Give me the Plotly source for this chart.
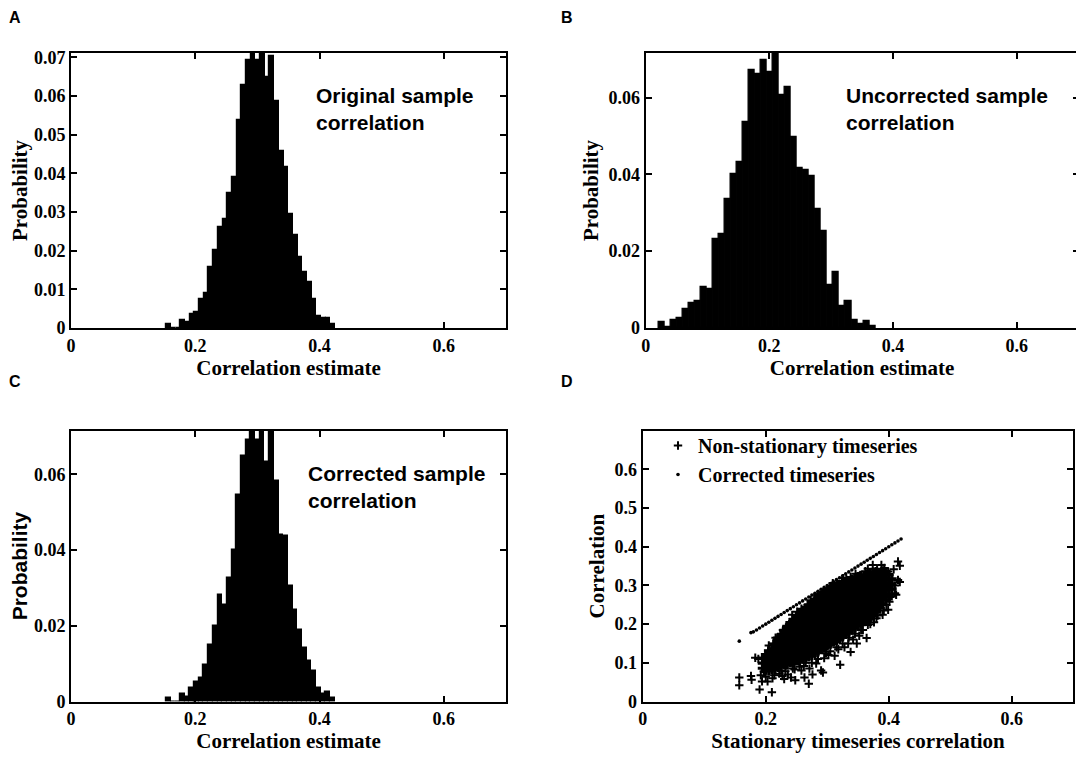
import plotly.graph_objects as go

# histogram bins (start, width) and bar heights
a_start, a_width = 0.1532, 0.00755
a_prob = [0.0011, 0, 0, 0.0021, 0.0016, 0.0037, 0.0042, 0.0076, 0.0091, 0.0157,
          0.0202, 0.0262, 0.0282, 0.0348, 0.0391, 0.0537, 0.0628, 0.0693, 0.0745, 0.0693,
          0.0740, 0.0648, 0.0702, 0.0587, 0.0457, 0.0416, 0.0296, 0.0241, 0.0183, 0.0145,
          0.0119, 0.0076, 0.0032, 0.0026, 0.0026, 0.0011]

b_start, b_width = 0.0204, 0.00975
b_prob = [0.0016, 0.0003, 0.0022, 0.0026, 0.0050, 0.0065, 0.0071, 0.0106, 0.0102, 0.0231,
          0.0246, 0.0336, 0.0402, 0.0431, 0.0537, 0.0671, 0.0661, 0.0697, 0.0666, 0.0745,
          0.0607, 0.0627, 0.0497, 0.0416, 0.0411, 0.0397, 0.0311, 0.0253, 0.0111, 0.0146,
          0.0056, 0.0070, 0.0021, 0.0010, 0.0019, 0.0006]

c_start, c_width = 0.1527, 0.00755
c_prob = [0.0009, 0, 0, 0.0021, 0.0012, 0.0037, 0.0051, 0.0062, 0.0097, 0.0150,
          0.0200, 0.0282, 0.0256, 0.0326, 0.0401, 0.0547, 0.0649, 0.0692, 0.0745, 0.0692,
          0.0745, 0.0634, 0.0745, 0.0584, 0.0441, 0.0437, 0.0306, 0.0242, 0.0189, 0.0141,
          0.0109, 0.0081, 0.0037, 0.0021, 0.0026, 0.0011]

# panel D: scattered crosses at the edge of the cloud
halo_x = [0.157, 0.157, 0.176, 0.177, 0.183, 0.188, 0.190, 0.192, 0.194, 0.197,
          0.200, 0.203, 0.205, 0.210, 0.211, 0.214, 0.216, 0.219, 0.222, 0.227,
          0.230, 0.233, 0.236, 0.241, 0.243, 0.247, 0.248, 0.251, 0.256, 0.258,
          0.262, 0.263, 0.266, 0.270, 0.271, 0.276, 0.278, 0.282, 0.286, 0.290,
          0.293, 0.295, 0.299, 0.302, 0.306, 0.309, 0.312, 0.318, 0.321, 0.326,
          0.328, 0.334, 0.338, 0.342, 0.348, 0.352, 0.353, 0.358, 0.364, 0.366,
          0.369, 0.374, 0.376, 0.382, 0.388, 0.390, 0.393, 0.399, 0.399, 0.401,
          0.405, 0.410, 0.412, 0.415, 0.418, 0.415, 0.418, 0.408, 0.403, 0.396,
          0.205, 0.212, 0.225, 0.228, 0.238, 0.252, 0.258, 0.268, 0.273, 0.284,
          0.292, 0.303, 0.316, 0.331, 0.338, 0.346, 0.362, 0.366, 0.381,
          0.215, 0.225, 0.232, 0.244, 0.255, 0.265, 0.275, 0.285, 0.298, 0.305,
          0.315, 0.325, 0.335, 0.345, 0.355, 0.370, 0.380, 0.392, 0.402, 0.410]
halo_y = [0.062, 0.042, 0.066, 0.056, 0.113, 0.110, 0.031, 0.068, 0.052, 0.078,
          0.064, 0.052, 0.145, 0.024, 0.060, 0.068, 0.165, 0.160, 0.072, 0.066,
          0.058, 0.190, 0.070, 0.062, 0.224, 0.083, 0.055, 0.232, 0.228, 0.080,
          0.092, 0.062, 0.236, 0.046, 0.085, 0.070, 0.252, 0.098, 0.265, 0.080,
          0.075, 0.112, 0.284, 0.120, 0.296, 0.306, 0.118, 0.135, 0.095, 0.319,
          0.140, 0.150, 0.128, 0.160, 0.150, 0.170, 0.326, 0.185, 0.164, 0.198,
          0.211, 0.353, 0.205, 0.222, 0.353, 0.224, 0.345, 0.237, 0.336, 0.258,
          0.272, 0.280, 0.276, 0.314, 0.309, 0.362, 0.351, 0.342, 0.300, 0.250,
          0.130, 0.150, 0.175, 0.185, 0.200, 0.215, 0.240, 0.250, 0.262, 0.275,
          0.282, 0.290, 0.303, 0.316, 0.322, 0.330, 0.337, 0.343, 0.343,
          0.085, 0.080, 0.078, 0.085, 0.090, 0.100, 0.100, 0.110, 0.125, 0.130,
          0.140, 0.150, 0.165, 0.175, 0.185, 0.200, 0.215, 0.235, 0.270, 0.300]

# panel D: dense core of the cloud, one list of correlations per stationary value
core_x = [0.195, 0.200, 0.205, 0.210, 0.215, 0.220, 0.225, 0.230, 0.235, 0.240,
          0.245, 0.250, 0.255, 0.260, 0.265, 0.270, 0.275, 0.280, 0.285, 0.290,
          0.295, 0.300, 0.305, 0.310, 0.315, 0.320, 0.325, 0.330, 0.335, 0.340,
          0.345, 0.350, 0.355, 0.360, 0.365, 0.370, 0.375, 0.380, 0.385, 0.390,
          0.395, 0.400, 0.405]
core_y = [
    [0.086, 0.099, 0.112],
    [0.082, 0.095, 0.108, 0.121],
    [0.079, 0.092, 0.105, 0.118, 0.131],
    [0.084, 0.097, 0.110, 0.123, 0.136],
    [0.083, 0.096, 0.109, 0.122, 0.135, 0.148],
    [0.089, 0.102, 0.115, 0.128, 0.141, 0.154, 0.164],
    [0.091, 0.104, 0.117, 0.130, 0.143, 0.156, 0.170],
    [0.096, 0.109, 0.122, 0.135, 0.148, 0.161, 0.174, 0.184],
    [0.095, 0.108, 0.121, 0.134, 0.147, 0.160, 0.173, 0.186, 0.194],
    [0.101, 0.114, 0.127, 0.140, 0.153, 0.166, 0.179, 0.192, 0.204],
    [0.100, 0.113, 0.126, 0.139, 0.152, 0.165, 0.178, 0.191, 0.204, 0.212],
    [0.106, 0.119, 0.132, 0.145, 0.158, 0.171, 0.184, 0.197, 0.210, 0.219],
    [0.105, 0.118, 0.131, 0.144, 0.157, 0.170, 0.183, 0.196, 0.209, 0.222],
    [0.110, 0.123, 0.136, 0.149, 0.162, 0.175, 0.188, 0.201, 0.214, 0.227, 0.235],
    [0.111, 0.124, 0.137, 0.150, 0.163, 0.176, 0.189, 0.202, 0.215, 0.228, 0.241],
    [0.117, 0.130, 0.143, 0.156, 0.169, 0.182, 0.195, 0.208, 0.221, 0.234, 0.247],
    [0.119, 0.132, 0.145, 0.158, 0.171, 0.184, 0.197, 0.210, 0.223, 0.236, 0.249, 0.256],
    [0.125, 0.138, 0.151, 0.164, 0.177, 0.190, 0.203, 0.216, 0.229, 0.242, 0.255, 0.262],
    [0.129, 0.142, 0.155, 0.168, 0.181, 0.194, 0.207, 0.220, 0.233, 0.246, 0.259, 0.268],
    [0.135, 0.148, 0.161, 0.174, 0.187, 0.200, 0.213, 0.226, 0.239, 0.252, 0.265, 0.275],
    [0.139, 0.152, 0.165, 0.178, 0.191, 0.204, 0.217, 0.230, 0.243, 0.256, 0.269, 0.280],
    [0.145, 0.158, 0.171, 0.184, 0.197, 0.210, 0.223, 0.236, 0.249, 0.262, 0.275, 0.285],
    [0.149, 0.162, 0.175, 0.188, 0.201, 0.214, 0.227, 0.240, 0.253, 0.266, 0.279, 0.290],
    [0.155, 0.168, 0.181, 0.194, 0.207, 0.220, 0.233, 0.246, 0.259, 0.272, 0.285, 0.294],
    [0.158, 0.171, 0.184, 0.197, 0.210, 0.223, 0.236, 0.249, 0.262, 0.275, 0.288, 0.298],
    [0.164, 0.177, 0.190, 0.203, 0.216, 0.229, 0.242, 0.255, 0.268, 0.281, 0.294, 0.302],
    [0.168, 0.181, 0.194, 0.207, 0.220, 0.233, 0.246, 0.259, 0.272, 0.285, 0.298, 0.306],
    [0.174, 0.187, 0.200, 0.213, 0.226, 0.239, 0.252, 0.265, 0.278, 0.291, 0.304, 0.310],
    [0.179, 0.192, 0.205, 0.218, 0.231, 0.244, 0.257, 0.270, 0.283, 0.296, 0.309],
    [0.185, 0.198, 0.211, 0.224, 0.237, 0.250, 0.263, 0.276, 0.289, 0.302, 0.315],
    [0.190, 0.203, 0.216, 0.229, 0.242, 0.255, 0.268, 0.281, 0.294, 0.307, 0.319],
    [0.197, 0.210, 0.223, 0.236, 0.249, 0.262, 0.275, 0.288, 0.301, 0.314, 0.322],
    [0.201, 0.214, 0.227, 0.240, 0.253, 0.266, 0.279, 0.292, 0.305, 0.318, 0.325],
    [0.207, 0.220, 0.233, 0.246, 0.259, 0.272, 0.285, 0.298, 0.311, 0.324],
    [0.211, 0.224, 0.237, 0.250, 0.263, 0.276, 0.289, 0.302, 0.315, 0.328],
    [0.217, 0.230, 0.243, 0.256, 0.269, 0.282, 0.295, 0.308, 0.321, 0.332],
    [0.223, 0.236, 0.249, 0.262, 0.275, 0.288, 0.301, 0.314, 0.327, 0.334],
    [0.231, 0.244, 0.257, 0.270, 0.283, 0.296, 0.309, 0.322, 0.335],
    [0.241, 0.254, 0.267, 0.280, 0.293, 0.306, 0.319, 0.332],
    [0.251, 0.264, 0.277, 0.290, 0.303, 0.316, 0.329, 0.337],
    [0.263, 0.276, 0.289, 0.302, 0.315, 0.328, 0.335],
    [0.276, 0.289, 0.302, 0.315, 0.328],
    [0.291, 0.304, 0.317],
]

# panel D: corrected timeseries
corr_x = [0.157, 0.176, 0.180, 0.185, 0.190, 0.195, 0.200, 0.205, 0.210, 0.215,
          0.220, 0.225, 0.230, 0.235, 0.240, 0.245, 0.250, 0.255, 0.260, 0.265,
          0.270, 0.275, 0.280, 0.285, 0.290, 0.295, 0.300, 0.305, 0.310, 0.315,
          0.320, 0.325, 0.330, 0.335, 0.340, 0.345, 0.350, 0.355, 0.360, 0.365,
          0.370, 0.375, 0.380, 0.385, 0.390, 0.395, 0.400, 0.405, 0.410, 0.415, 0.420]
corr_y = [0.156, 0.178, 0.180, 0.185, 0.190, 0.195, 0.200, 0.205, 0.210, 0.215,
          0.220, 0.225, 0.230, 0.235, 0.240, 0.245, 0.250, 0.255, 0.260, 0.265,
          0.270, 0.275, 0.280, 0.285, 0.290, 0.295, 0.300, 0.305, 0.310, 0.315,
          0.320, 0.325, 0.330, 0.335, 0.340, 0.345, 0.350, 0.355, 0.360, 0.365,
          0.370, 0.375, 0.380, 0.385, 0.390, 0.395, 0.400, 0.405, 0.410, 0.415, 0.420]

x_ticks = [0, 0.2, 0.4, 0.6]
x_ticktext = ["0", "0.2", "0.4", "0.6"]
a_yticks = [0, 0.01, 0.02, 0.03, 0.04, 0.05, 0.06, 0.07]
a_yticktext = ["0", "0.01", "0.02", "0.03", "0.04", "0.05", "0.06", "0.07"]
bc_yticks = [0, 0.02, 0.04, 0.06]
bc_yticktext = ["0", "0.02", "0.04", "0.06"]
d_yticks = [0, 0.1, 0.2, 0.3, 0.4, 0.5, 0.6]
d_yticktext = ["0", "0.1", "0.2", "0.3", "0.4", "0.5", "0.6"]

SERIF = "Liberation Serif"
SANS = "Liberation Sans"
OFF = 8  # the page body margin shifts the figure by 8px
W, H = 1084 - OFF, 758 - OFF


def centers(start, width, n):
    return [start + width * (i + 0.5) for i in range(n)]


def pxx(x):
    return (x - OFF) / W


def pxy(y):
    return 1 - (y - OFF) / H


fig = go.Figure()

for prob, start, width, ax in [(a_prob, a_start, a_width, ""),
                               (b_prob, b_start, b_width, "2"),
                               (c_prob, c_start, c_width, "3")]:
    fig.add_trace(go.Bar(
        x=centers(start, width, len(prob)), y=prob, width=width,
        marker=dict(color="black", line=dict(color="black", width=1.2)),
        xaxis="x" + ax, yaxis="y" + ax, showlegend=False,
    ))

cross = dict(symbol="cross-thin", size=6, color="black")

fig.add_trace(go.Scatter(
    x=[cx for cx, ys in zip(core_x, core_y) for _ in ys],
    y=[y for ys in core_y for y in ys],
    mode="markers", name="Non-stationary timeseries", legendgroup="ns",
    showlegend=False,
    marker=dict(cross, size=7, line=dict(color="black", width=3.2)),
    xaxis="x4", yaxis="y4",
))
fig.add_trace(go.Scatter(
    x=halo_x, y=halo_y, mode="markers", name="Non-stationary timeseries",
    legendgroup="ns",
    marker=dict(cross, line=dict(color="black", width=2)),
    xaxis="x4", yaxis="y4",
))
fig.add_trace(go.Scatter(
    x=corr_x, y=corr_y, mode="markers", name="Corrected timeseries",
    marker=dict(symbol="circle", size=3.6, color="black"),
    xaxis="x4", yaxis="y4",
))

tick_font = dict(family=SERIF, size=18, color="black", weight="bold")


def axis(domain, rng, tickvals, ticktext, title, title_font, anchor, standoff):
    return dict(
        domain=domain, range=rng, anchor=anchor, autorange=False,
        tickvals=tickvals, ticktext=ticktext, tickfont=tick_font,
        ticks="inside", ticklen=6, tickwidth=2, tickcolor="black",
        showline=True, linewidth=2, linecolor="black", mirror="allticks",
        showgrid=False, zeroline=False, automargin=False,
        title=dict(text=title, font=title_font, standoff=standoff),
    )


serif_title = dict(family=SERIF, size=21, color="black", weight="bold")
sans_title = dict(family=SANS, size=21, color="black", weight="bold")

xA = [pxx(71), pxx(506)]
xB = [pxx(645.7), pxx(1078.5)]
xD = [pxx(642.7), pxx(1073.3)]
yTop = [pxy(328), pxy(53)]
yBot = [pxy(701.5), pxy(430.7)]

fig.update_layout(
    width=W, height=H,
    margin=dict(l=0, r=0, t=0, b=0),
    paper_bgcolor="white", plot_bgcolor="white",
    bargap=0,
    xaxis=axis(xA, [0, 0.7], x_ticks, x_ticktext, "Correlation estimate", serif_title, "y", 3),
    yaxis=axis(yTop, [0, 0.0711], a_yticks, a_yticktext, "Probability", serif_title, "x", 4),
    xaxis2=axis(xB, [0, 0.7], x_ticks, x_ticktext, "Correlation estimate", serif_title, "y2", 3),
    yaxis2=axis(yTop, [0, 0.0716], bc_yticks, bc_yticktext, "Probability", serif_title, "x2", 4),
    xaxis3=axis(xA, [0, 0.7], x_ticks, x_ticktext, "Correlation estimate", serif_title, "y3", 3),
    yaxis3=axis(yBot, [0, 0.0715], bc_yticks, bc_yticktext, "Probability", sans_title, "x3", 4),
    xaxis4=axis(xD, [0, 0.7], x_ticks, x_ticktext, "Stationary timeseries correlation", serif_title, "y4", 3),
    yaxis4=axis(yBot, [0, 0.7], d_yticks, d_yticktext, "Correlation", serif_title, "x4", 4),
    legend=dict(
        x=pxx(658), y=pxy(426), xanchor="left", yanchor="top",
        bgcolor="rgba(0,0,0,0)", borderwidth=0,
        font=dict(family=SERIF, size=20, color="black", weight="bold"),
        tracegroupgap=0,
    ),
)

# in-panel labels and panel letters
notes = [
    ("Original sample<br>correlation", 314, 109),
    ("Uncorrected sample<br>correlation", 844, 109),
    ("Corrected sample<br>correlation", 305.7, 487),
]
for text, x, y in notes:
    fig.add_annotation(
        text=text, x=pxx(x), y=pxy(y), xref="paper", yref="paper",
        xanchor="left", yanchor="middle", align="left", showarrow=False,
        font=dict(family=SANS, size=21, color="black", weight="bold"),
    )

for letter, x, y in [("A", 8, 8), ("B", 560, 8), ("C", 8, 372), ("D", 560, 372)]:
    fig.add_annotation(
        text=letter, x=pxx(x), y=pxy(y), xref="paper", yref="paper",
        xanchor="left", yanchor="top", showarrow=False, borderpad=0,
        font=dict(family=SANS, size=16, color="black", weight="bold"),
    )

fig.write_html("out.html")
